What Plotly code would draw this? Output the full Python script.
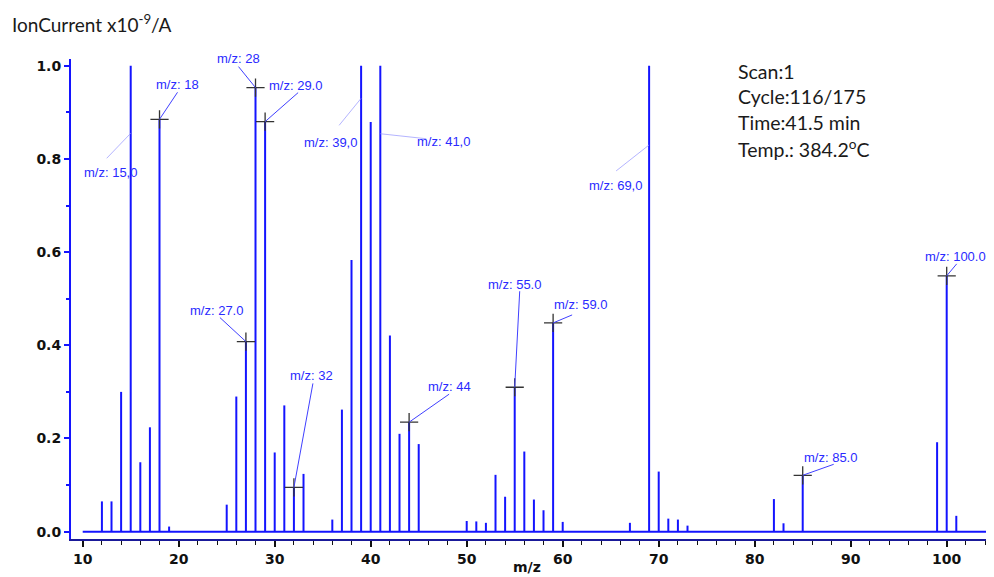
import plotly.graph_objects as go

# ---------------- data ----------------
mz = [12, 13, 14, 15, 16, 17, 18, 19,
      25, 26, 27, 28, 29, 30, 31, 32, 33,
      36, 37, 38, 39, 40, 41, 42, 43, 44, 45,
      50, 51, 52, 53, 54, 55, 56, 57, 58, 59, 60,
      67, 69, 70, 71, 72, 73, 82, 83, 85, 99, 100, 101]
intensity = [0.065, 0.065, 0.30, 1.0, 0.149, 0.224, 0.885, 0.011,
             0.058, 0.29, 0.408, 0.953, 0.880, 0.17, 0.271, 0.095, 0.124,
             0.026, 0.262, 0.583, 1.0, 0.879, 1.0, 0.421, 0.21, 0.235, 0.188,
             0.023, 0.022, 0.019, 0.122, 0.075, 0.31, 0.172, 0.069, 0.046, 0.448, 0.021,
             0.019, 1.0, 0.129, 0.028, 0.026, 0.013, 0.07, 0.018, 0.121, 0.192, 0.549, 0.034]

marked_mz = [18, 27, 28, 29, 32, 44, 55, 59, 85, 100]

label_mz = [15, 18, 28, 29, 39, 41, 69, 27, 32, 44, 55, 59, 85, 100]
label_text = ["m/z: 15,0", "m/z: 18", "m/z: 28", "m/z: 29.0", "m/z: 39,0", "m/z: 41,0",
              "m/z: 69,0", "m/z: 27.0", "m/z: 32", "m/z: 44", "m/z: 55.0", "m/z: 59.0",
              "m/z: 85.0", "m/z: 100.0"]
# anchor heights for the saturated peaks (leader lines meet the stem there)
saturated_anchor = {15: 0.855, 39: 0.930, 41: 0.854, 69: 0.830}

info_lines = ["Scan:1", "Cycle:116/175", "Time:41.5 min", "Temp.: 384.2<sup>o</sup>C"]
title_text = "IonCurrent x10<sup>-9</sup>/A"

x_ticks_start, x_dtick = 10, 10
baseline_start = 10

# ---------------- styles ----------------
BLUE = "#1414ff"
LABEL_BLUE = "#2a2aff"
# (text dx, text dy, tail dx, tail dy) pixel offsets from anchor, screen y-down
label_offsets = {
    15: (-20, 39, -24, 25),
    18: (18, -35, 18, -27),
    28: (-17, -29, -17, -21),
    29: (30, -36, 33, -29),
    39: (-31, 44, -22, 27),
    41: (63, 8, 46, 5),
    69: (-34, 41, -33, 26),
    27: (-29, -31, -26, -24),
    32: (18, -112, 19, -104),
    44: (40, -36, 40, -28),
    55: (0, -103, 5, -96),
    59: (27, -18, 19, -8),
    85: (28, -18, 31, -11),
    100: (9, -19, 10, -12),
}

value_of = dict(zip(mz, intensity))

fig = go.Figure()

# baseline
x_end = 105.76
fig.add_trace(go.Scatter(x=[baseline_start, x_end + 1], y=[0, 0], mode="lines",
                         line=dict(color=BLUE, width=2), hoverinfo="skip", showlegend=False))

# stems
xs, ys = [], []
for m, v in zip(mz, intensity):
    xs += [m, m, None]
    ys += [0, v, None]
fig.add_trace(go.Scatter(x=xs, y=ys, mode="lines", line=dict(color=BLUE, width=2),
                         showlegend=False, hoverinfo="skip"))

# crosshair markers
fig.add_trace(go.Scatter(x=marked_mz, y=[value_of[m] for m in marked_mz], mode="markers",
                         marker=dict(symbol="cross-thin", size=13,
                                     line=dict(color="#333333", width=1.3)),
                         showlegend=False, hoverinfo="skip"))

shapes = []
annotations = []
for m, txt in zip(label_mz, label_text):
    v = saturated_anchor.get(m, value_of[m])
    dx, dy, lx, ly = label_offsets[m]
    faint = m in saturated_anchor
    shapes.append(dict(type="line", xref="x", yref="y",
                       xsizemode="pixel", ysizemode="pixel",
                       xanchor=m, yanchor=v, x0=0, y0=0, x1=lx, y1=-ly,
                       line=dict(color="rgba(150,150,255,0.9)" if faint else "#4040ff",
                                 width=0.8 if faint else 1)))
    annotations.append(dict(x=m, y=v, xref="x", yref="y", text=txt, showarrow=False,
                            xshift=dx, yshift=-dy, xanchor="center", yanchor="middle",
                            font=dict(family="Liberation Sans, Arial", size=13, color=LABEL_BLUE)))

PLOT_W = 931
info_y = [0.975, 0.9215, 0.867, 0.814]
for t, yy in zip(info_lines, info_y):
    annotations.append(dict(x=(736 - 71) / PLOT_W, y=yy, xref="paper", yref="paper", text=t,
                            showarrow=False, xanchor="left", yanchor="middle",
                            font=dict(family="Lato", size=19.5, color="#1a1a1a")))

annotations.append(dict(x=(10 - 71) / PLOT_W, y=1.075, xref="paper", yref="paper", text=title_text,
                        showarrow=False, xanchor="left", yanchor="middle",
                        font=dict(family="Lato", size=19, color="#1a1a1a")))

annotations.append(dict(x=(527 - 71) / PLOT_W, y=-0.058, xref="paper", yref="paper", text="m/z",
                        showarrow=False, xanchor="center", yanchor="middle",
                        font=dict(family="DejaVu Sans", size=14, color="#111111", weight="bold")))

# the page body adds an 8px offset, so margins are shifted by 8px
fig.update_layout(
    width=994, height=577,
    margin=dict(l=63, r=0, t=51, b=46, autoexpand=False),
    plot_bgcolor="white", paper_bgcolor="white",
    shapes=shapes, annotations=annotations,
    xaxis=dict(range=[8.78, x_end], automargin=False, showgrid=False, zeroline=False,
               showline=True, linecolor="#1a1a9a", linewidth=2, ticks="outside",
               tick0=x_ticks_start, dtick=x_dtick, ticklen=6, tickwidth=1.5, tickcolor="#111111",
               tickfont=dict(family="DejaVu Sans", size=14, color="#111111", weight="bold"),
               minor=dict(dtick=2, ticklen=4, tickwidth=1, tickcolor="#111111", ticks="outside")),
    yaxis=dict(range=[-0.0157, 1.0144], automargin=False, showgrid=False, zeroline=False,
               showline=True, linecolor=BLUE, linewidth=2, ticks="outside", tick0=0, dtick=0.2,
               tickformat=".1f", ticklen=5, tickwidth=2, tickcolor=BLUE,
               tickfont=dict(family="DejaVu Sans", size=14, color="#111111", weight="bold"),
               minor=dict(dtick=0.1, ticklen=3, tickwidth=1.5, tickcolor=BLUE, ticks="outside")),
)

fig.write_html("out.html")
